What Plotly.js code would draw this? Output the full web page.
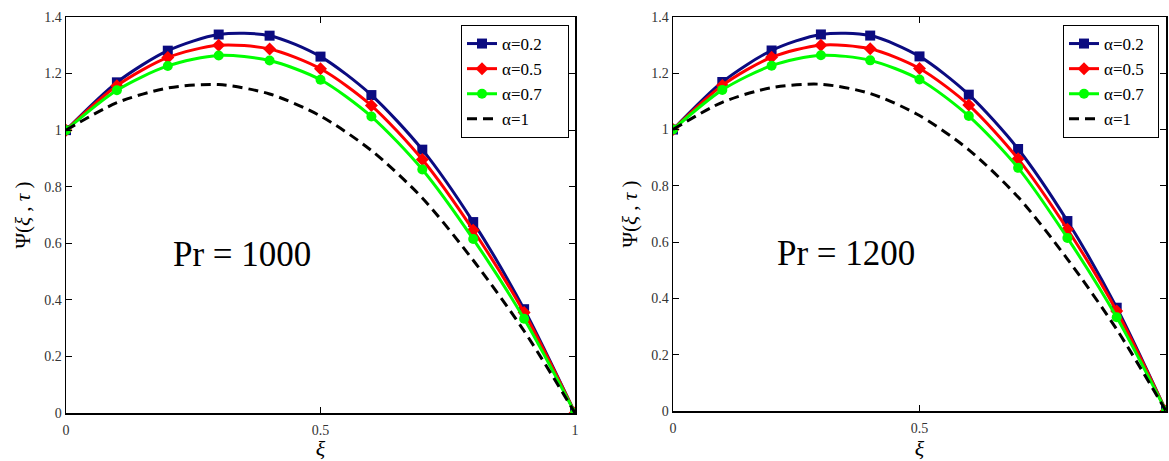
<!DOCTYPE html>
<html>
<head>
<meta charset="utf-8">
<script src="https://cdn.plot.ly/plotly-3.0.1.min.js"></script>
<style>html,body{margin:0;padding:0;background:#fff;}#chart{width:1169px;height:461px;}</style>
</head>
<body>
<div id="chart"></div>
<script>
// ---- data ----
const xi = [0, 0.1, 0.2, 0.3, 0.4, 0.5, 0.6, 0.7, 0.8, 0.9, 1.0];

// Pr = 1000 (left panel)
const left_a02 = [1.0, 1.169, 1.281, 1.338, 1.334, 1.260, 1.124, 0.931, 0.675, 0.367, 0.0];
const left_a05 = [1.0, 1.157, 1.257, 1.300, 1.287, 1.217, 1.087, 0.896, 0.646, 0.355, 0.0];
const left_a07 = [1.0, 1.141, 1.227, 1.264, 1.246, 1.178, 1.048, 0.861, 0.615, 0.333, 0.0];
const left_a1  = [1.0, 1.097, 1.149, 1.161, 1.128, 1.050, 0.928, 0.760, 0.540, 0.290, 0.0];

// Pr = 1200 (right panel)
const right_a02 = [1.0, 1.169, 1.281, 1.338, 1.334, 1.260, 1.124, 0.931, 0.675, 0.367, 0.0];
const right_a05 = [1.0, 1.157, 1.257, 1.300, 1.287, 1.217, 1.087, 0.896, 0.646, 0.355, 0.0];
const right_a07 = [1.0, 1.141, 1.227, 1.264, 1.246, 1.178, 1.048, 0.864, 0.615, 0.333, 0.0];
const right_a1  = [1.0, 1.097, 1.149, 1.161, 1.128, 1.050, 0.928, 0.760, 0.540, 0.290, 0.0];

const seriesNames = ["α=0.2", "α=0.5", "α=0.7", "α=1"];
const yTickVals = [0, 0.2, 0.4, 0.6, 0.8, 1, 1.2, 1.4];
const yTickText = ["0", "0.2", "0.4", "0.6", "0.8", "1", "1.2", "1.4"];
const xTickVals = [0, 0.5, 1];
const xTickText = ["0", "0.5", "1"];
const panelLabels = ["Pr = 1000", "Pr = 1200"];

// ---- styling ----
const W = 1169, H = 461;
const serif = "Liberation Serif";
const styles = [
  {color: "#0b0b80", symbol: "square", dash: "solid", markers: true},
  {color: "#ff0000", symbol: "diamond", dash: "solid", markers: true},
  {color: "#00ff00", symbol: "circle", dash: "solid", markers: true},
  {color: "#000000", symbol: "circle", dash: "10px,6px", markers: false}
];

function makeTraces(ys, xa, ya, legendId, pad) {
  return ys.map((y, i) => ({
    x: xi, y: y, xaxis: xa, yaxis: ya,
    name: seriesNames[i] + "\u00a0".repeat(pad), legend: legendId,
    type: "scatter",
    mode: styles[i].markers ? "lines+markers" : "lines",
    line: {color: styles[i].color, width: 3, dash: styles[i].dash, shape: "spline", smoothing: 0.8},
    marker: {symbol: styles[i].symbol, size: 10, color: styles[i].color}
  }));
}

const traces = [].concat(
  makeTraces([left_a02, left_a05, left_a07, left_a1], "x", "y", "legend", 5),
  makeTraces([right_a02, right_a05, right_a07, right_a1], "x2", "y2", "legend2", 2)
);

function xAxis(domain, anchor) {
  return {
    domain: domain, anchor: anchor, range: [0, 1],
    tickvals: xTickVals, ticktext: xTickText,
    ticks: "inside", ticklen: 6, tickwidth: 1, tickcolor: "#000",
    showline: true, linecolor: "#000", linewidth: 1.5, mirror: "ticks",
    showgrid: false, zeroline: false, ticklabelstandoff: 4,
    tickfont: {family: serif, size: 14, color: "#333"},
    title: {text: "<i>ξ</i>", font: {family: serif, size: 22, color: "#000"}, standoff: 7}
  };
}
function yAxis(domain, anchor) {
  return {
    domain: domain, anchor: anchor, range: [0, 1.4],
    tickvals: yTickVals, ticktext: yTickText,
    ticks: "inside", ticklen: 6, tickwidth: 1, tickcolor: "#000",
    showline: true, linecolor: "#000", linewidth: 1.5, mirror: "ticks",
    showgrid: false, zeroline: false,
    tickfont: {family: serif, size: 14, color: "#333"},
    title: {text: "Ψ(<i>ξ</i> , <i>τ</i> )", font: {family: serif, size: 21, color: "#000"}, standoff: 8}
  };
}

function legendAt(xpx, ypx) {
  return {
    x: xpx / W, y: 1 - ypx / H, xanchor: "left", yanchor: "top",
    bgcolor: "#fff", bordercolor: "#000", borderwidth: 1,
    font: {family: serif, size: 17, color: "#000"},
    tracegroupgap: 0, itemwidth: 30
  };
}

const layout = {
  width: W, height: H,
  margin: {l: 0, r: 0, t: 0, b: 0, autoexpand: false},
  paper_bgcolor: "#fff", plot_bgcolor: "#fff",
  showlegend: true,
  xaxis: xAxis([66 / W, 575 / W], "y"),
  yaxis: yAxis([1 - 413 / H, 1 - 17 / H], "x"),
  xaxis2: xAxis([673 / W, 1166 / W], "y2"),
  yaxis2: yAxis([1 - 411 / H, 1 - 17 / H], "x2"),
  legend: legendAt(461, 25),
  legend2: legendAt(1063, 25),
  annotations: [
    {xref: "x", yref: "y", x: 0.345, y: 0.56, text: panelLabels[0], showarrow: false,
     font: {family: serif, size: 35, color: "#000"}},
    {xref: "x2", yref: "y2", x: 0.35, y: 0.56, text: panelLabels[1], showarrow: false,
     font: {family: serif, size: 35, color: "#000"}}
  ]
};

Plotly.newPlot("chart", traces, layout, {staticPlot: true, displayModeBar: false});
</script>
</body>
</html>
